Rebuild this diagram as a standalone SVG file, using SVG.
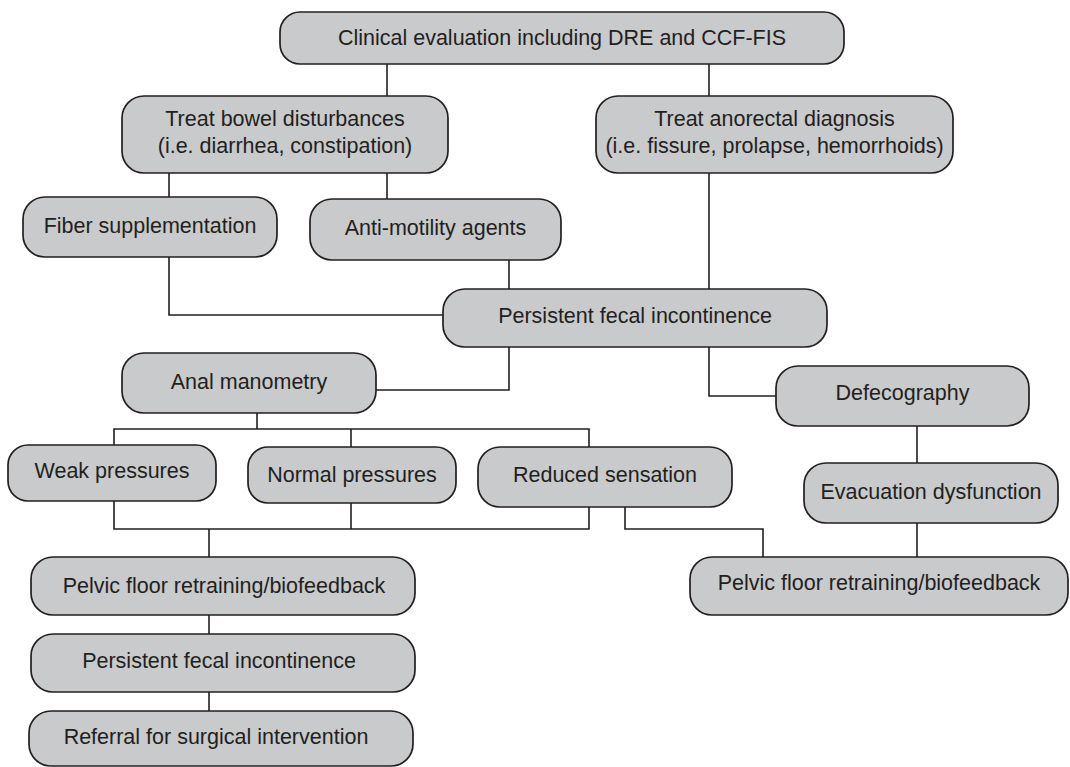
<svg xmlns="http://www.w3.org/2000/svg" width="1070" height="767" viewBox="0 0 1070 767">
<style>
  .box { fill: #c8cacb; stroke: #231f20; stroke-width: 1.7; }
  .lbl { font-family: "Liberation Sans", Arial, sans-serif; font-size: 21.5px; fill: #231f20; text-anchor: middle; }
  .conn { fill: none; stroke: #231f20; stroke-width: 1.6; }
</style>
<rect width="1070" height="767" fill="#ffffff"/>
<g id="connectors">
  <path class="conn" d="M387 64 V96"/>
  <path class="conn" d="M709 64 V96"/>
  <path class="conn" d="M169 173 V197"/>
  <path class="conn" d="M387 173 V199"/>
  <path class="conn" d="M169 257 V315 H443"/>
  <path class="conn" d="M509 260 V289"/>
  <path class="conn" d="M709 173 V289"/>
  <path class="conn" d="M509 347 V390 H376"/>
  <path class="conn" d="M709 347 V396 H776"/>
  <path class="conn" d="M257 413 V429"/>
  <path class="conn" d="M114 445 V429 H589 V447"/>
  <path class="conn" d="M351 429 V447"/>
  <path class="conn" d="M114 501 V529 H589 V507"/>
  <path class="conn" d="M351 503 V529"/>
  <path class="conn" d="M209 529 V557"/>
  <path class="conn" d="M625 507 V529 H763 V557"/>
  <path class="conn" d="M917 426 V463"/>
  <path class="conn" d="M917 523 V557"/>
  <path class="conn" d="M209 615 V634"/>
  <path class="conn" d="M209 692 V711"/>
</g>
<g id="n-clinical">
  <rect class="box" x="280" y="12" width="564" height="52" rx="20"/>
  <text class="lbl" x="562" y="45">Clinical evaluation including DRE and CCF-FIS</text>
</g>
<g id="n-bowel">
  <rect class="box" x="122" y="96" width="326" height="77" rx="22"/>
  <text class="lbl" x="285" y="126">Treat bowel disturbances</text>
  <text class="lbl" x="285" y="153">(i.e. diarrhea, constipation)</text>
</g>
<g id="n-anorectal">
  <rect class="box" x="596" y="96" width="357" height="77" rx="22"/>
  <text class="lbl" x="774.5" y="126">Treat anorectal diagnosis</text>
  <text class="lbl" x="774.5" y="153">(i.e. fissure, prolapse, hemorrhoids)</text>
</g>
<g id="n-fiber">
  <rect class="box" x="23" y="197" width="254" height="60" rx="22"/>
  <text class="lbl" x="150" y="233">Fiber supplementation</text>
</g>
<g id="n-antimotility">
  <rect class="box" x="310" y="199" width="251" height="61" rx="22"/>
  <text class="lbl" x="435.5" y="235">Anti-motility agents</text>
</g>
<g id="n-persistent1">
  <rect class="box" x="443" y="289" width="384" height="58" rx="22"/>
  <text class="lbl" x="635" y="323">Persistent fecal incontinence</text>
</g>
<g id="n-manometry">
  <rect class="box" x="122" y="353" width="254" height="60" rx="22"/>
  <text class="lbl" x="249" y="389">Anal manometry</text>
</g>
<g id="n-defecography">
  <rect class="box" x="776" y="366" width="253" height="60" rx="22"/>
  <text class="lbl" x="902.5" y="400">Defecography</text>
</g>
<g id="n-weak">
  <rect class="box" x="8" y="445" width="208" height="56" rx="20"/>
  <text class="lbl" x="112" y="478">Weak pressures</text>
</g>
<g id="n-normal">
  <rect class="box" x="248" y="447" width="208" height="56" rx="20"/>
  <text class="lbl" x="352" y="482">Normal pressures</text>
</g>
<g id="n-reduced">
  <rect class="box" x="478" y="447" width="254" height="60" rx="22"/>
  <text class="lbl" x="605" y="482">Reduced sensation</text>
</g>
<g id="n-evacuation">
  <rect class="box" x="804" y="463" width="254" height="60" rx="22"/>
  <text class="lbl" x="931" y="499">Evacuation dysfunction</text>
</g>
<g id="n-pelvic-right">
  <rect class="box" x="690" y="557" width="378" height="58" rx="22"/>
  <text class="lbl" x="879" y="590">Pelvic floor retraining/biofeedback</text>
</g>
<g id="n-pelvic-left">
  <rect class="box" x="31" y="557" width="384" height="58" rx="22"/>
  <text class="lbl" x="224" y="593">Pelvic floor retraining/biofeedback</text>
</g>
<g id="n-persistent2">
  <rect class="box" x="31" y="634" width="384" height="58" rx="22"/>
  <text class="lbl" x="219" y="668">Persistent fecal incontinence</text>
</g>
<g id="n-referral">
  <rect class="box" x="29" y="711" width="384" height="55" rx="22"/>
  <text class="lbl" x="216" y="744">Referral for surgical intervention</text>
</g>
</svg>
